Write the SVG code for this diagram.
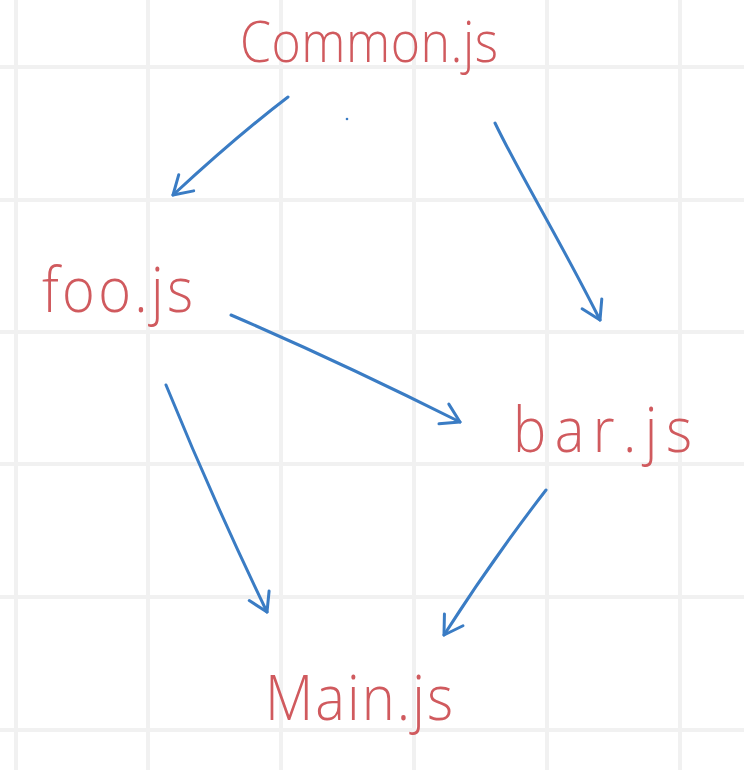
<svg xmlns="http://www.w3.org/2000/svg" width="744" height="770" viewBox="0 0 744 770">
  <style>
    .grid line { stroke: #f1f1f1; stroke-width: 4; }
    .label { font-family: "Open Sans", "Lato", "Liberation Sans", sans-serif; font-weight: 300; font-size: 56px; fill: #d05a5e; }
    .conn path { fill: none; stroke: #3a7cc4; stroke-width: 3; stroke-linecap: round; }
    .head { fill: none; stroke: #3a7cc4; stroke-width: 3; stroke-linecap: round; stroke-linejoin: round; }
  </style>
  <defs>
    <marker id="arrow" markerUnits="userSpaceOnUse" markerWidth="40" markerHeight="40" viewBox="-30 -20 40 40" refX="0" refY="0" orient="auto">
      <path class="head" d="M-18,-11 L0,0 L-18,11"/>
    </marker>
  </defs>
  <rect width="744" height="770" fill="#ffffff"/>
  <g class="grid">
    <line x1="16" y1="0" x2="16" y2="770"/>
    <line x1="148" y1="0" x2="148" y2="770"/>
    <line x1="281" y1="0" x2="281" y2="770"/>
    <line x1="414" y1="0" x2="414" y2="770"/>
    <line x1="547" y1="0" x2="547" y2="770"/>
    <line x1="680" y1="0" x2="680" y2="770"/>
    <line x1="0" y1="67" x2="744" y2="67"/>
    <line x1="0" y1="200" x2="744" y2="200"/>
    <line x1="0" y1="332" x2="744" y2="332"/>
    <line x1="0" y1="464" x2="744" y2="464"/>
    <line x1="0" y1="597" x2="744" y2="597"/>
    <line x1="0" y1="730" x2="744" y2="730"/>
  </g>
  <g class="conn" id="connectors">
    <path d="M288,97 Q238,135 173,195" marker-end="url(#arrow)"/>
    <path d="M495,123 C520,175 560,240 600,320" marker-end="url(#arrow)"/>
    <path d="M231,315 Q340,362 460,422" marker-end="url(#arrow)"/>
    <path d="M166,385 Q213,500 267,612" marker-end="url(#arrow)"/>
    <path d="M546,490 Q492,560 444,635" marker-end="url(#arrow)"/>
  </g>
  <circle cx="347" cy="119" r="1.3" fill="#3a7cc4"/>
  <g id="common">
    <text class="label" style="font-size:50px" transform="translate(240,62) scale(1,1.15)" textLength="258" lengthAdjust="spacing">Common.js</text>
  </g>
  <g id="foo">
    <text class="label" transform="translate(42,312) scale(1,1.12)" textLength="151" lengthAdjust="spacing">foo.js</text>
  </g>
  <g id="bar">
    <text class="label" transform="translate(513,452) scale(1,1.12)" textLength="179" lengthAdjust="spacing">bar.js</text>
  </g>
  <g id="main">
    <text class="label" transform="translate(265,720) scale(1,1.12)" textLength="188" lengthAdjust="spacing">Main.js</text>
  </g>
</svg>
